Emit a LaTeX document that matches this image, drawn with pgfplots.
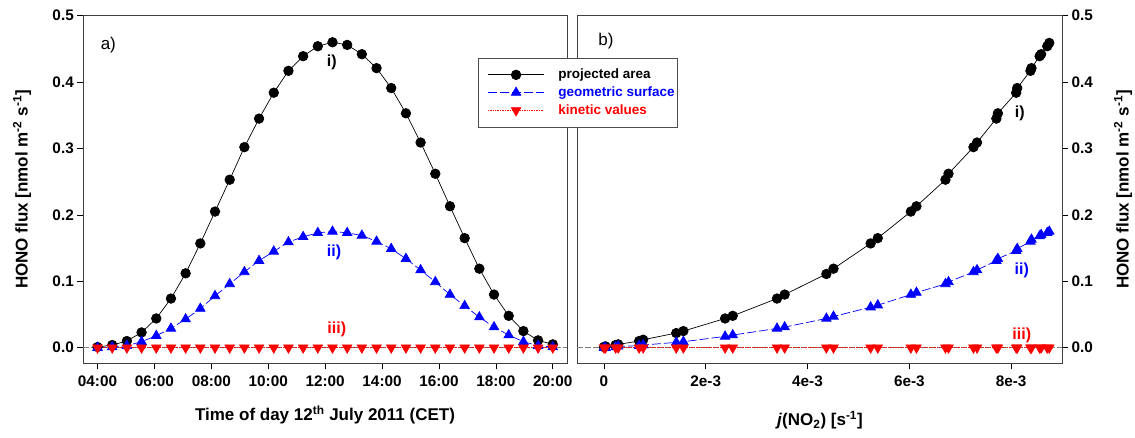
\documentclass[border=0pt]{standalone}
\usepackage{fontspec}
\setmainfont{Liberation Sans}
\usepackage{pgfplots}
\pgfplotsset{compat=1.18}
\usepackage{pgfplotstable}

\pgfplotstableread[row sep=\\]{
t black blue red \\
4.0000 0.001 0.000 0 \\
4.5161 0.004 0.001 0 \\
5.0323 0.010 0.003 0 \\
5.5484 0.023 0.009 0 \\
6.0645 0.044 0.018 0 \\
6.5806 0.074 0.029 0 \\
7.0968 0.112 0.043 0 \\
7.6129 0.157 0.059 0 \\
8.1290 0.205 0.078 0 \\
8.6452 0.253 0.096 0 \\
9.1613 0.302 0.114 0 \\
9.6774 0.345 0.131 0 \\
10.1935 0.384 0.145 0 \\
10.7097 0.417 0.159 0 \\
11.2258 0.439 0.167 0 \\
11.7419 0.454 0.173 0 \\
12.2581 0.460 0.175 0 \\
12.7742 0.456 0.173 0 \\
13.2903 0.442 0.169 0 \\
13.8065 0.421 0.160 0 \\
14.3226 0.391 0.149 0 \\
14.8387 0.353 0.134 0 \\
15.3548 0.309 0.117 0 \\
15.8710 0.262 0.099 0 \\
16.3871 0.213 0.080 0 \\
16.9032 0.165 0.063 0 \\
17.4194 0.119 0.046 0 \\
17.9355 0.080 0.031 0 \\
18.4516 0.048 0.019 0 \\
18.9677 0.025 0.009 0 \\
19.4839 0.011 0.003 0 \\
20.0000 0.005 0.001 0 \\
}\timetable

\pgfplotstableread[row sep=\\]{
j black blue red \\
0.00000 0.001 0.000 0 \\
0.00003 0.002 0.000 0 \\
0.00023 0.004 0.001 0 \\
0.00028 0.005 0.002 0 \\
0.00069 0.010 0.003 0 \\
0.00077 0.012 0.004 0 \\
0.00142 0.022 0.008 0 \\
0.00156 0.025 0.009 0 \\
0.00238 0.044 0.017 0 \\
0.00253 0.048 0.019 0 \\
0.00340 0.074 0.029 0 \\
0.00355 0.080 0.031 0 \\
0.00437 0.111 0.044 0 \\
0.00451 0.119 0.047 0 \\
0.00524 0.157 0.061 0 \\
0.00538 0.165 0.064 0 \\
0.00603 0.205 0.080 0 \\
0.00614 0.213 0.083 0 \\
0.00671 0.253 0.096 0 \\
0.00677 0.262 0.099 0 \\
0.00726 0.302 0.114 0 \\
0.00733 0.309 0.117 0 \\
0.00771 0.345 0.131 0 \\
0.00774 0.353 0.134 0 \\
0.00810 0.384 0.146 0 \\
0.00812 0.391 0.149 0 \\
0.00838 0.417 0.160 0 \\
0.00840 0.421 0.163 0 \\
0.00856 0.439 0.168 0 \\
0.00859 0.442 0.170 0 \\
0.00871 0.454 0.173 0 \\
0.00875 0.459 0.175 0 \\
}\jtable

\newcommand{\lblfont}{\bfseries\fontsize{17}{19}\selectfont}
\newcommand{\tckfont}{\bfseries\fontsize{15.3}{17}\selectfont}
\pgfplotsset{
  base/.style={
    scale only axis,
    height=347.6pt,
    ymin=-0.0235, ymax=0.5,
    ytick={0,0.1,0.2,0.3,0.4,0.5},
    yticklabels={0.0,0.1,0.2,0.3,0.4,0.5},
    xtick pos=lower,
    tick align=outside,
    major tick length=6pt,
    tick style={black, line width=0.7pt},
    axis line style={black!75, line width=0.9pt},
    /pgf/number format/assume math mode=true,
    scaled x ticks=false,
    tick label style={font=\tckfont},
    xticklabel style={yshift=-3pt},
    clip=false,
  },
  blk/.style={black, line width=0.7pt, mark=*, mark size=4.8pt, mark options={solid}},
  blu/.style={blue, line width=0.7pt, dash pattern=on 9pt off 3pt, mark=triangle*, mark size=5.5pt, mark options={solid}},
  rd/.style={red, line width=0.7pt, densely dotted, mark=triangle*, mark size=5.5pt, mark options={solid, rotate=180}},
}

\begin{document}
\begin{tikzpicture}
\useasboundingbox (0,0) rectangle (1135pt,438pt);

% right panel
\begin{axis}[base,
  at={(577pt,74.7pt)}, anchor=south west,
  width=485pt,
  xmin=-0.00053, xmax=0.009,
  xtick={0,0.002,0.004,0.006,0.008},
  xticklabels={0,2e-3,4e-3,6e-3,8e-3},
  ytick pos=right, yticklabel pos=right,
  xlabel={\textit{j}(NO\textsubscript{2}) [s\textsuperscript{-1}]},
  ylabel={HONO flux [nmol m\textsuperscript{-2} s\textsuperscript{-1}]},
  every axis x label/.style={at={(axis description cs:0.501,-0.163)}, anchor=center, font=\lblfont},
  every axis y label/.style={at={(axis description cs:1.1258,0.5)}, anchor=center, rotate=90, font=\lblfont},
]
\addplot[gray, line width=0.9pt, dash pattern=on 6pt off 2pt, forget plot] coordinates {(-0.00053,0) (0.009,0)};
\addplot[blk] table[x=j, y=black] {\jtable};
\addplot[blu] table[x=j, y=blue] {\jtable};
\addplot[rd] table[x=j, y=red] {\jtable};
\node[font=\fontsize{17}{19}\selectfont] at (axis cs:0.00004,0.461) {b)};
\node[font=\bfseries\fontsize{16}{18}\selectfont, black] at (axis cs:0.00817,0.353) {i)};
\node[font=\bfseries\fontsize{16}{18}\selectfont, blue] at (axis cs:0.00821,0.117) {ii)};
\node[font=\bfseries\fontsize{16}{18}\selectfont, red] at (axis cs:0.00821,0.019) {iii)};
\end{axis}

% left panel
\begin{axis}[base,
  at={(83.3pt,74.7pt)}, anchor=south west,
  width=483.7pt,
  xmin=3.5, xmax=20.5,
  xtick={4,6,8,10,12,14,16,18,20},
  xticklabels={04:00,06:00,08:00,10:00,12:00,14:00,16:00,18:00,20:00},
  ytick pos=left,
  xlabel={Time of day 12\textsuperscript{th} July 2011 (CET)},
  ylabel={HONO flux [nmol m\textsuperscript{-2} s\textsuperscript{-1}]},
  every axis x label/.style={at={(axis description cs:0.4997,-0.149)}, anchor=center, font=\lblfont},
  every axis y label/.style={at={(axis description cs:-0.1267,0.5)}, anchor=center, rotate=90, font=\lblfont},
  legend style={at={(axis description cs:0.8166,0.879)}, anchor=north west,
    draw=black!70, line width=0.9pt, fill=white,
    font=\bfseries\fontsize{13.5}{15}\selectfont,
    inner xsep=1pt, inner ysep=9pt, row sep=2.5pt,
    cells={anchor=west}},
  legend image code/.code={%
    \path (0pt,0pt) (76pt,0pt);
    \draw[mark repeat=2, mark phase=2, #1] plot coordinates {(8pt,0pt) (36pt,0pt) (64pt,0pt)};},
]
\addplot[gray, line width=0.9pt, dash pattern=on 6pt off 2pt, forget plot] coordinates {(3.5,0) (20.5,0)};
\addplot[blk] table[x=t, y=black] {\timetable};
\addlegendentry{projected area\hspace{19pt}}
\addplot[blu] table[x=t, y=blue] {\timetable};
\addlegendentry{\textcolor{blue}{geometric surface}\hspace{19pt}}
\addplot[rd] table[x=t, y=red] {\timetable};
\addlegendentry{\textcolor{red}{kinetic values}\hspace{19pt}}
\node[font=\fontsize{17}{19}\selectfont] at (axis cs:4.38,0.456) {a)};
\node[font=\bfseries\fontsize{16}{18}\selectfont, black] at (axis cs:12.23,0.430) {i)};
\node[font=\bfseries\fontsize{16}{18}\selectfont, blue] at (axis cs:12.31,0.143) {ii)};
\node[font=\bfseries\fontsize{16}{18}\selectfont, red] at (axis cs:12.41,0.028) {iii)};
\end{axis}
\end{tikzpicture}
\end{document}
